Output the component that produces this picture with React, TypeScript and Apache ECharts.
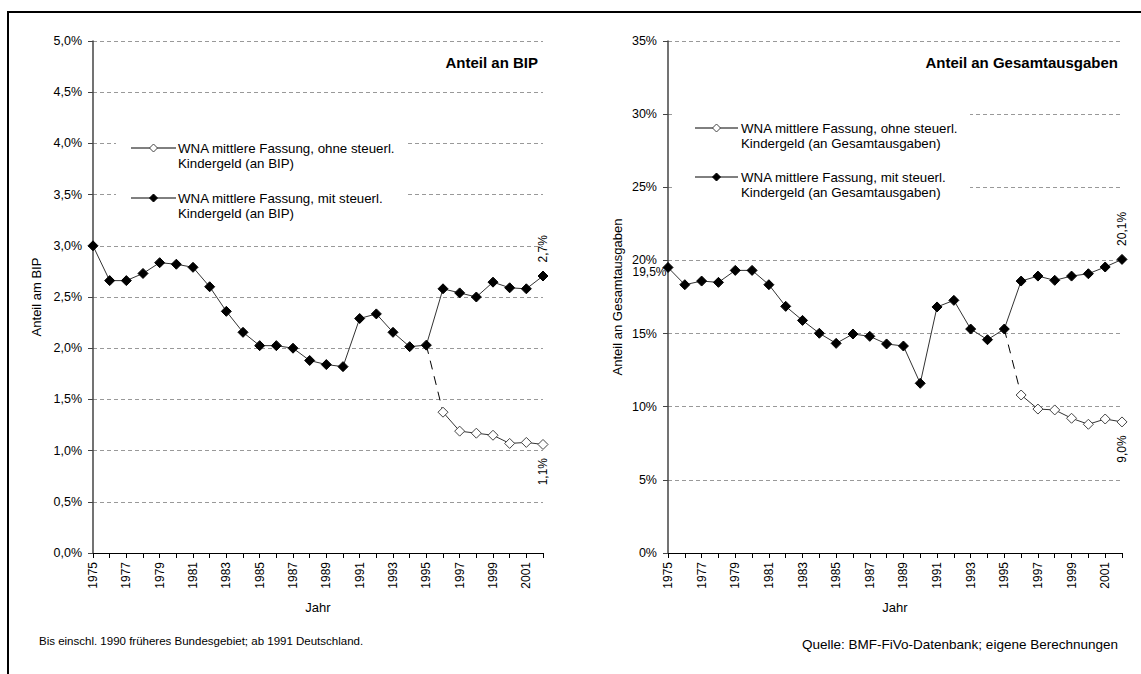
import React, { useEffect, useRef } from "react";
import * as echarts from "echarts";

const years = [
  "1975", "1976", "1977", "1978", "1979", "1980", "1981", "1982", "1983", "1984",
  "1985", "1986", "1987", "1988", "1989", "1990", "1991", "1992", "1993", "1994",
  "1995", "1996", "1997", "1998", "1999", "2000", "2001", "2002",
];

// Anteil an BIP (%)
const bipMit = [
  3.0, 2.66, 2.66, 2.73, 2.835, 2.82, 2.79, 2.6, 2.36, 2.155,
  2.025, 2.025, 2.0, 1.88, 1.84, 1.82, 2.29, 2.335, 2.155, 2.015,
  2.03, 2.58, 2.54, 2.5, 2.645, 2.59, 2.58, 2.705,
];
const bipOhne = [
  null, null, null, null, null, null, null, null, null, null,
  null, null, null, null, null, null, null, null, null, null,
  null, 1.375, 1.19, 1.17, 1.15, 1.07, 1.08, 1.06,
];

// Anteil an Gesamtausgaben (%)
const gesMit = [
  19.52, 18.34, 18.59, 18.5, 19.32, 19.32, 18.34, 16.86, 15.9, 15.02,
  14.33, 14.97, 14.81, 14.29, 14.15, 11.6, 16.82, 17.27, 15.31, 14.58,
  15.31, 18.59, 18.93, 18.64, 18.93, 19.09, 19.55, 20.07,
];
const gesOhne = [
  null, null, null, null, null, null, null, null, null, null,
  null, null, null, null, null, null, null, null, null, null,
  null, 10.8, 9.84, 9.78, 9.21, 8.8, 9.16, 8.96,
];

const leftTicks = { min: 0, max: 5, interval: 0.5 };
const rightTicks = { min: 0, max: 35, interval: 5 };

const FONT = "Liberation Sans, Arial, sans-serif";

function fmtPct(v: number) {
  return v.toFixed(1).replace(".", ",") + "%";
}

function connector(mit: (number | null)[], ohne: (number | null)[]) {
  const idx = ohne.findIndex((v) => v != null);
  return mit.map((_, i) => (i === idx - 1 ? mit[i] : i === idx ? ohne[i] : null));
}

function withEndLabel(arr: (number | null)[], pos: "top" | "bottom") {
  const last = arr.length - 1;
  return arr.map((v, i) =>
    i === last
      ? {
          value: v,
          label: {
            show: true,
            position: pos,
            distance: 8,
            rotate: 90,
            align: pos === "top" ? "left" : "right",
            verticalAlign: "middle",
            color: "#000",
            fontFamily: FONT,
            fontSize: 12,
            formatter: (p: any) => fmtPct(p.value),
          },
        }
      : v
  );
}

export default function App() {
  const ref = useRef<HTMLDivElement>(null);

  useEffect(() => {
    if (!ref.current) return;
    const chart = echarts.init(ref.current, undefined, { renderer: "svg" });

    const xAxisBase = (gridIndex: number) => ({
      type: "category",
      gridIndex,
      data: years,
      boundaryGap: false,
      name: "Jahr",
      nameLocation: "middle",
      nameGap: 48,
      nameTextStyle: { color: "#000", fontFamily: FONT, fontSize: 13 },
      axisLine: { show: true, lineStyle: { color: "#000", width: 1 } },
      axisTick: { show: true, interval: 0, length: 5, lineStyle: { color: "#000" } },
      axisLabel: {
        interval: 1,
        rotate: 90,
        margin: 9,
        color: "#000",
        fontFamily: FONT,
        fontSize: 12,
      },
      splitLine: { show: false },
    });

    const yAxisBase = (gridIndex: number, ticks: any, name: string, gap: number, fmt: any) => ({
      type: "value",
      gridIndex,
      min: ticks.min,
      max: ticks.max,
      interval: ticks.interval,
      name,
      nameLocation: "middle",
      nameGap: gap,
      nameTextStyle: { color: "#000", fontFamily: FONT, fontSize: 13 },
      axisLine: { show: true, lineStyle: { color: "#444", width: 1.5 } },
      axisTick: { show: true, length: 5, lineStyle: { color: "#444" } },
      axisLabel: { color: "#000", fontFamily: FONT, fontSize: 12.5, margin: 11, formatter: fmt },
      splitLine: { show: true, lineStyle: { color: "#999", type: [4, 3], width: 1 } },
    });

    const lineColor = "#333";

    const blackSeries = (name: string, idx: number, data: any[]) => ({
      name,
      type: "line",
      xAxisIndex: idx,
      yAxisIndex: idx,
      data,
      symbol: "diamond",
      symbolSize: 10,
      lineStyle: { color: lineColor, width: 1 },
      itemStyle: { color: "#000", borderColor: "#000" },
      z: 3,
    });

    const whiteSeries = (name: string, idx: number, data: any[]) => ({
      name,
      type: "line",
      xAxisIndex: idx,
      yAxisIndex: idx,
      data,
      symbol: "diamond",
      symbolSize: 10,
      connectNulls: false,
      lineStyle: { color: lineColor, width: 1 },
      itemStyle: { color: "#fff", borderColor: "#444", borderWidth: 1 },
      z: 3,
    });

    const dashSeries = (idx: number, data: any[]) => ({
      name: "conn" + idx,
      type: "line",
      xAxisIndex: idx,
      yAxisIndex: idx,
      data,
      showSymbol: false,
      symbol: "none",
      lineStyle: { color: "#000", width: 1, type: [9, 7] },
      z: 2,
    });

    const gesMitData: any[] = withEndLabel(gesMit, "top");
    gesMitData[0] = {
      value: gesMit[0],
      label: {
        show: true,
        position: "left",
        distance: -4,
        offset: [0, 5],
        color: "#000",
        fontFamily: FONT,
        fontSize: 12,
        formatter: (p: any) => fmtPct(p.value),
      },
    };

    const legendGroup = (
      rect: number[],
      iconX0: number,
      iconX1: number,
      textX: number,
      rows: { y: number; text: string; filled: boolean }[]
    ) => {
      const children: any[] = [
        {
          type: "rect",
          shape: { x: rect[0], y: rect[1], width: rect[2], height: rect[3] },
          style: { fill: "#fff" },
          z: 10,
        },
      ];
      rows.forEach((r) => {
        const cx = (iconX0 + iconX1) / 2;
        children.push({
          type: "line",
          shape: { x1: iconX0, y1: r.y, x2: iconX1, y2: r.y },
          style: { stroke: "#000", lineWidth: 1 },
          z: 11,
        });
        const s = 4;
        children.push({
          type: "polygon",
          shape: {
            points: [
              [cx, r.y - s],
              [cx + s, r.y],
              [cx, r.y + s],
              [cx - s, r.y],
            ],
          },
          style: r.filled ? { fill: "#000", stroke: "#000" } : { fill: "#fff", stroke: "#444", lineWidth: 1 },
          z: 12,
        });
        children.push({
          type: "text",
          x: textX,
          y: r.y - 7.5,
          style: {
            text: r.text,
            font: `13.3px ${FONT}`,
            fill: "#000",
            lineHeight: 15,
            textVerticalAlign: "top",
            textAlign: "left",
          },
          z: 12,
        });
      });
      return children;
    };

    const option: any = {
      animation: false,
      backgroundColor: "#fff",
      grid: [
        { left: 93, top: 41, width: 450, height: 512 },
        { left: 668, top: 41, width: 454, height: 512 },
      ],
      xAxis: [xAxisBase(0), xAxisBase(1)],
      yAxis: [
        yAxisBase(0, leftTicks, "Anteil am BIP", 50, (v: number) => fmtPct(v)),
        yAxisBase(1, rightTicks, "Anteil an Gesamtausgaben", 44, (v: number) => v + "%"),
      ],
      series: [
        dashSeries(0, connector(bipMit, bipOhne)),
        whiteSeries("WNA mittlere Fassung, ohne steuerl. Kindergeld (an BIP)", 0, withEndLabel(bipOhne, "bottom")),
        blackSeries("WNA mittlere Fassung, mit steuerl. Kindergeld (an BIP)", 0, withEndLabel(bipMit, "top")),
        dashSeries(1, connector(gesMit, gesOhne)),
        whiteSeries(
          "WNA mittlere Fassung, ohne steuerl. Kindergeld (an Gesamtausgaben)",
          1,
          withEndLabel(gesOhne, "bottom")
        ),
        blackSeries("WNA mittlere Fassung, mit steuerl. Kindergeld (an Gesamtausgaben)", 1, gesMitData),
      ],
      graphic: [
        {
          type: "rect",
          shape: { x: 8, y: 12, width: 1140, height: 670 },
          style: { fill: "none", stroke: "#000", lineWidth: 2 },
          silent: true,
          z: 20,
        },
        {
          type: "text",
          x: 538,
          y: 62,
          style: {
            text: "Anteil an BIP",
            font: `bold 15px ${FONT}`,
            fill: "#000",
            textAlign: "right",
            textVerticalAlign: "middle",
          },
        },
        {
          type: "text",
          x: 1118,
          y: 62,
          style: {
            text: "Anteil an Gesamtausgaben",
            font: `bold 15px ${FONT}`,
            fill: "#000",
            textAlign: "right",
            textVerticalAlign: "middle",
          },
        },
        {
          type: "text",
          x: 39,
          y: 641,
          style: {
            text: "Bis einschl. 1990 früheres Bundesgebiet; ab 1991 Deutschland.",
            font: `11.5px ${FONT}`,
            fill: "#000",
            textAlign: "left",
            textVerticalAlign: "middle",
          },
        },
        {
          type: "text",
          x: 1118,
          y: 644,
          style: {
            text: "Quelle: BMF-FiVo-Datenbank; eigene Berechnungen",
            font: `13.5px ${FONT}`,
            fill: "#000",
            textAlign: "right",
            textVerticalAlign: "middle",
          },
        },
        {
          type: "group",
          children: legendGroup([116, 135, 292, 88], 131, 176, 178, [
            { y: 148, text: "WNA mittlere Fassung, ohne steuerl.\nKindergeld (an BIP)", filled: false },
            { y: 198, text: "WNA mittlere Fassung, mit steuerl.\nKindergeld (an BIP)", filled: true },
          ]),
        },
        {
          type: "group",
          children: legendGroup([672, 104, 298, 98], 695, 738, 741, [
            { y: 128, text: "WNA mittlere Fassung, ohne steuerl.\nKindergeld (an Gesamtausgaben)", filled: false },
            { y: 177, text: "WNA mittlere Fassung, mit steuerl.\nKindergeld (an Gesamtausgaben)", filled: true },
          ]),
        },
      ],
    };

    chart.setOption(option);
    return () => chart.dispose();
  }, []);

  return (
    <div
      ref={ref}
      style={{ position: "absolute", left: 0, top: 0, width: 1141, height: 674, background: "#fff" }}
    />
  );
}
